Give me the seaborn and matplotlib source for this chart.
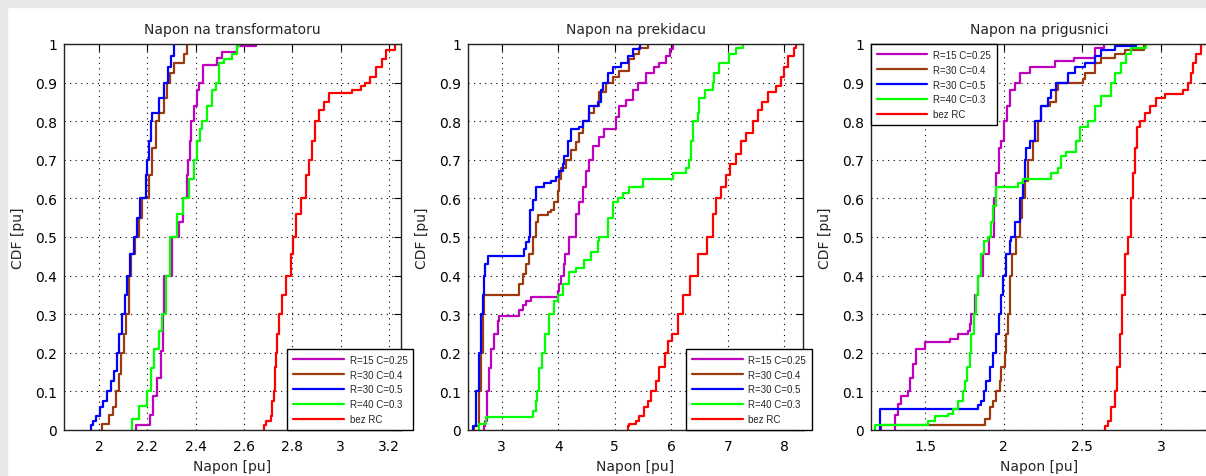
import matplotlib
matplotlib.use("Agg")
import matplotlib.pyplot as plt
from matplotlib.patches import Rectangle
import seaborn as sns
import pandas as pd

sns.set_style("white")
plt.rcParams["font.family"] = ["DejaVu Sans"]

labele = ["R=15 C=0.25", "R=30 C=0.4", "R=30 C=0.5", "R=40 C=0.3", "bez RC"]
boje = ["#bf00bf", "#9c3a0e", "#0000ff", "#00ff00", "#ff0000"]

# --- Napon na transformatoru (x = napon, cdf = vrijednost nakon skoka)
trafo_r15_x = [2.152, 2.152, 2.211, 2.225, 2.242, 2.256, 2.266, 2.270, 2.300, 2.331, 2.348, 2.363,
               2.368, 2.377, 2.382, 2.393, 2.404, 2.414, 2.432, 2.489, 2.510, 2.572, 2.648]
trafo_r15_cdf = [0, 0.014, 0.04, 0.089, 0.136, 0.205, 0.30, 0.40, 0.50, 0.54, 0.60, 0.66,
                 0.70, 0.75, 0.80, 0.84, 0.88, 0.90, 0.945, 0.965, 0.98, 0.995, 1.0]
trafo_r30a_x = [2.014, 2.014, 2.041, 2.059, 2.069, 2.083, 2.092, 2.103, 2.110, 2.124, 2.131, 2.148,
                2.165, 2.179, 2.207, 2.221, 2.234, 2.248, 2.269, 2.283, 2.294, 2.310, 2.352, 2.363]
trafo_r30a_cdf = [0, 0.016, 0.04, 0.06, 0.10, 0.145, 0.20, 0.25, 0.30, 0.40, 0.456, 0.50,
                  0.55, 0.60, 0.66, 0.73, 0.80, 0.82, 0.86, 0.90, 0.925, 0.95, 0.975, 1.0]
trafo_r30b_x = [1.966, 1.966, 1.977, 1.986, 2.004, 2.018, 2.032, 2.048, 2.062, 2.073, 2.083, 2.097,
                2.106, 2.117, 2.128, 2.145, 2.158, 2.170, 2.193, 2.200, 2.207, 2.214, 2.221,
                2.248, 2.269, 2.286, 2.299, 2.310]
trafo_r30b_cdf = [0, 0.012, 0.024, 0.037, 0.059, 0.076, 0.10, 0.128, 0.154, 0.20, 0.25, 0.30,
                  0.35, 0.40, 0.456, 0.50, 0.55, 0.60, 0.66, 0.70, 0.75, 0.80, 0.82,
                  0.86, 0.90, 0.94, 0.97, 1.0]
trafo_r40_x = [2.138, 2.138, 2.166, 2.200, 2.216, 2.228, 2.248, 2.262, 2.276, 2.294, 2.324, 2.349,
               2.372, 2.393, 2.407, 2.418, 2.428, 2.446, 2.469, 2.483, 2.497, 2.517, 2.552, 2.572, 2.579]
trafo_r40_cdf = [0, 0.028, 0.063, 0.10, 0.16, 0.21, 0.257, 0.30, 0.40, 0.50, 0.56, 0.60,
                 0.65, 0.70, 0.75, 0.78, 0.80, 0.84, 0.88, 0.90, 0.95, 0.96, 0.975, 0.995, 1.0]
trafo_bez_x = [2.683, 2.683, 2.690, 2.710, 2.717, 2.724, 2.727, 2.734, 2.738, 2.745, 2.759, 2.772,
               2.793, 2.804, 2.814, 2.837, 2.855, 2.869, 2.883, 2.892, 2.910, 2.931, 2.952,
               3.048, 3.083, 3.103, 3.120, 3.145, 3.172, 3.186, 3.225]
trafo_bez_cdf = [0, 0.012, 0.024, 0.035, 0.076, 0.10, 0.162, 0.20, 0.25, 0.30, 0.35, 0.40,
                 0.456, 0.50, 0.56, 0.60, 0.66, 0.70, 0.75, 0.80, 0.83, 0.85, 0.873,
                 0.88, 0.89, 0.90, 0.915, 0.94, 0.96, 0.985, 1.0]

# --- Napon na prekidacu
prek_r15_x = [2.693, 2.693, 2.711, 2.735, 2.770, 2.811, 2.870, 2.929, 2.960, 3.312, 3.371, 3.430,
              3.519, 3.990, 4.020, 4.050, 4.097, 4.126, 4.197, 4.315, 4.374, 4.433, 4.492,
              4.539, 4.610, 4.728, 4.816, 5.022, 5.081, 5.199, 5.317, 5.405, 5.553, 5.701,
              5.789, 5.907, 5.978, 6.025]
prek_r15_cdf = [0, 0.01, 0.024, 0.10, 0.16, 0.21, 0.25, 0.283, 0.296, 0.31, 0.325, 0.334,
                0.344, 0.36, 0.378, 0.40, 0.43, 0.456, 0.50, 0.56, 0.59, 0.63, 0.67,
                0.70, 0.735, 0.76, 0.78, 0.81, 0.84, 0.855, 0.88, 0.90, 0.925, 0.94,
                0.95, 0.97, 0.986, 1.0]
prek_r30a_x = [2.517, 2.517, 2.605, 2.634, 2.664, 2.693, 3.312, 3.371, 3.430, 3.478, 3.548, 3.607,
               3.640, 3.814, 3.873, 3.932, 3.990, 4.020, 4.050, 4.138, 4.226, 4.315, 4.374,
               4.433, 4.551, 4.639, 4.728, 4.846, 4.963, 5.081, 5.258, 5.347, 5.435, 5.590]
prek_r30a_cdf = [0, 0.01, 0.10, 0.20, 0.30, 0.35, 0.378, 0.404, 0.43, 0.456, 0.50, 0.54,
                 0.556, 0.565, 0.57, 0.59, 0.62, 0.65, 0.68, 0.70, 0.725, 0.745, 0.77,
                 0.80, 0.82, 0.84, 0.875, 0.90, 0.915, 0.93, 0.96, 0.975, 0.99, 1.0]
prek_r30b_x = [2.487, 2.487, 2.546, 2.593, 2.634, 2.664, 2.680, 2.711, 2.752, 3.401, 3.430, 3.478,
               3.501, 3.548, 3.607, 3.755, 3.873, 3.961, 4.020, 4.079, 4.110, 4.167, 4.226,
               4.374, 4.445, 4.551, 4.698, 4.757, 4.798, 4.875, 4.963, 5.111, 5.229, 5.317, 5.440]
prek_r30b_cdf = [0, 0.01, 0.10, 0.20, 0.30, 0.35, 0.40, 0.43, 0.45, 0.47, 0.486, 0.50,
                 0.57, 0.595, 0.63, 0.64, 0.645, 0.655, 0.67, 0.69, 0.71, 0.75, 0.78,
                 0.785, 0.80, 0.84, 0.85, 0.88, 0.90, 0.925, 0.94, 0.95, 0.97, 0.986, 1.0]
prek_r40_x = [2.605, 2.605, 2.723, 3.548, 3.607, 3.625, 3.666, 3.713, 3.772, 3.831, 3.932, 3.990,
              4.079, 4.197, 4.315, 4.462, 4.580, 4.698, 4.728, 4.875, 4.963, 5.052, 5.140,
              5.258, 5.494, 6.025, 6.261, 6.308, 6.349, 6.390, 6.467, 6.497, 6.603, 6.732,
              6.762, 6.850, 7.027, 7.145, 7.263]
prek_r40_cdf = [0, 0.016, 0.033, 0.05, 0.076, 0.10, 0.16, 0.20, 0.25, 0.30, 0.335, 0.35,
                0.378, 0.41, 0.42, 0.44, 0.46, 0.49, 0.50, 0.55, 0.59, 0.60, 0.615,
                0.63, 0.65, 0.667, 0.68, 0.70, 0.75, 0.80, 0.82, 0.86, 0.88, 0.90,
                0.925, 0.95, 0.975, 0.99, 1.0]
prek_bez_x = [5.229, 5.229, 5.258, 5.376, 5.435, 5.524, 5.583, 5.642, 5.730, 5.777, 5.880, 5.950,
              6.020, 6.120, 6.200, 6.330, 6.470, 6.630, 6.732, 6.791, 6.880, 6.968, 7.045,
              7.145, 7.233, 7.322, 7.440, 7.528, 7.605, 7.705, 7.853, 7.941, 8.000, 8.059,
              8.177, 8.206]
prek_bez_cdf = [0, 0.01, 0.016, 0.024, 0.037, 0.059, 0.076, 0.10, 0.128, 0.162, 0.20, 0.23,
                0.25, 0.30, 0.35, 0.40, 0.456, 0.50, 0.56, 0.60, 0.63, 0.66, 0.69,
                0.715, 0.75, 0.77, 0.80, 0.83, 0.85, 0.875, 0.89, 0.915, 0.94, 0.97,
                0.99, 1.0]

# --- Napon na prigusnici
prig_r15_x = [1.307, 1.307, 1.328, 1.349, 1.392, 1.402, 1.424, 1.445, 1.498, 1.657, 1.710, 1.774,
              1.784, 1.795, 1.816, 1.837, 1.869, 1.905, 1.939, 1.954, 1.971, 1.986, 2.003,
              2.024, 2.039, 2.070, 2.102, 2.170, 2.330, 2.445, 2.583, 2.636]
prig_r15_cdf = [0, 0.04, 0.067, 0.089, 0.10, 0.136, 0.17, 0.21, 0.227, 0.236, 0.25, 0.257,
                0.275, 0.30, 0.35, 0.40, 0.456, 0.50, 0.60, 0.665, 0.73, 0.75, 0.80,
                0.84, 0.88, 0.90, 0.925, 0.94, 0.955, 0.965, 0.99, 1.0]
prig_r30a_x = [1.222, 1.222, 1.880, 1.911, 1.933, 1.954, 1.975, 1.986, 2.007, 2.017, 2.028, 2.039,
               2.053, 2.081, 2.102, 2.117, 2.134, 2.155, 2.187, 2.219, 2.240, 2.293, 2.335,
               2.346, 2.505, 2.516, 2.580, 2.622, 2.707, 2.770, 2.890]
prig_r30a_cdf = [0, 0.014, 0.028, 0.059, 0.076, 0.10, 0.128, 0.162, 0.20, 0.25, 0.30, 0.40,
                 0.456, 0.50, 0.55, 0.60, 0.645, 0.70, 0.75, 0.80, 0.84, 0.85, 0.88,
                 0.90, 0.91, 0.925, 0.95, 0.965, 0.975, 0.985, 1.0]
prig_r30b_x = [1.212, 1.212, 1.837, 1.858, 1.875, 1.890, 1.911, 1.933, 1.954, 1.971, 1.986, 1.996,
               2.017, 2.039, 2.049, 2.070, 2.102, 2.123, 2.134, 2.144, 2.166, 2.198, 2.240,
               2.282, 2.304, 2.335, 2.410, 2.452, 2.516, 2.580, 2.622, 2.707, 2.844]
prig_r30b_cdf = [0, 0.054, 0.065, 0.076, 0.10, 0.128, 0.162, 0.20, 0.25, 0.30, 0.35, 0.40,
                 0.456, 0.49, 0.50, 0.54, 0.60, 0.645, 0.70, 0.73, 0.75, 0.80, 0.84,
                 0.86, 0.88, 0.90, 0.925, 0.94, 0.95, 0.97, 0.985, 0.995, 1.0]
prig_r40_x = [1.180, 1.180, 1.519, 1.561, 1.646, 1.678, 1.710, 1.742, 1.752, 1.769, 1.784, 1.795,
              1.812, 1.827, 1.837, 1.858, 1.875, 1.901, 1.922, 1.933, 1.950, 2.090, 2.125,
              2.300, 2.346, 2.367, 2.399, 2.463, 2.484, 2.537, 2.580, 2.622, 2.685, 2.707,
              2.749, 2.781, 2.813, 2.908]
prig_r40_cdf = [0, 0.014, 0.024, 0.035, 0.041, 0.054, 0.076, 0.10, 0.128, 0.162, 0.20, 0.25,
                0.30, 0.35, 0.40, 0.456, 0.49, 0.50, 0.54, 0.58, 0.63, 0.64, 0.65,
                0.665, 0.68, 0.71, 0.72, 0.75, 0.785, 0.80, 0.84, 0.865, 0.90, 0.925,
                0.95, 0.975, 0.99, 1.0]
prig_bez_x = [2.647, 2.647, 2.664, 2.685, 2.711, 2.723, 2.738, 2.753, 2.774, 2.791, 2.813, 2.823,
              2.834, 2.851, 2.866, 2.897, 2.929, 2.972, 3.025, 3.141, 3.173, 3.190, 3.205,
              3.226, 3.258]
prig_bez_cdf = [0, 0.01, 0.024, 0.059, 0.10, 0.162, 0.25, 0.35, 0.456, 0.50, 0.60, 0.665,
                0.73, 0.785, 0.80, 0.82, 0.84, 0.86, 0.87, 0.88, 0.90, 0.925, 0.95,
                0.975, 1.0]

naslovi = ["Napon na transformatoru", "Napon na prekidacu", "Napon na prigusnici"]
serije = [
    [(trafo_r15_x, trafo_r15_cdf), (trafo_r30a_x, trafo_r30a_cdf), (trafo_r30b_x, trafo_r30b_cdf),
     (trafo_r40_x, trafo_r40_cdf), (trafo_bez_x, trafo_bez_cdf)],
    [(prek_r15_x, prek_r15_cdf), (prek_r30a_x, prek_r30a_cdf), (prek_r30b_x, prek_r30b_cdf),
     (prek_r40_x, prek_r40_cdf), (prek_bez_x, prek_bez_cdf)],
    [(prig_r15_x, prig_r15_cdf), (prig_r30a_x, prig_r30a_cdf), (prig_r30b_x, prig_r30b_cdf),
     (prig_r40_x, prig_r40_cdf), (prig_bez_x, prig_bez_cdf)],
]
x_ticks = [[2, 2.2, 2.4, 2.6, 2.8, 3, 3.2], [3, 4, 5, 6, 7, 8], [1.5, 2, 2.5, 3]]
x_tick_labels = [["2", "2.2", "2.4", "2.6", "2.8", "3", "3.2"],
                 ["3", "4", "5", "6", "7", "8"],
                 ["1.5", "2", "2.5", "3"]]
y_ticks = [0, 0.1, 0.2, 0.3, 0.4, 0.5, 0.6, 0.7, 0.8, 0.9, 1]
y_tick_labels = ["0", "0.1", "0.2", "0.3", "0.4", "0.5", "0.6", "0.7", "0.8", "0.9", "1"]

x_limits = [(1.855, 3.25), (2.404, 8.33), (1.157, 3.30)]
W, H = 1206, 477
pozicije = [(64, 401), (468, 803), (871, 1208)]
legende = [("lower right", (1.036, 0.0)), ("lower right", (1.027, 0.0)), ("upper left", (0.0, 1.0))]

fig = plt.figure(figsize=(W / 100, H / 100), dpi=100)
fig.patches.append(Rectangle((0, 1 - 8 / H), 1, 8 / H, transform=fig.transFigure,
                             color="#e8e8e8", zorder=0))
fig.patches.append(Rectangle((0, 0), 7 / W, 1, transform=fig.transFigure,
                             color="#e8e8e8", zorder=0))

for i in range(3):
    l, r = pozicije[i]
    ax = fig.add_axes([l / W, (H - 431) / H, (r - l) / W, 386 / H])
    for j, (xs, fs) in enumerate(serije[i]):
        df = pd.DataFrame({"Napon": xs, "CDF": fs})
        sns.lineplot(data=df, x="Napon", y="CDF", ax=ax, estimator=None, sort=False,
                     drawstyle="steps-post", color=boje[j], linewidth=1.6, label=labele[j])

    ax.set_xlim(*x_limits[i])
    ax.set_ylim(0, 1)
    ax.set_xticks(x_ticks[i])
    ax.set_xticklabels(x_tick_labels[i])
    ax.set_yticks(y_ticks)
    ax.set_yticklabels(y_tick_labels)
    ax.grid(True, color="k", linestyle=(0, (1, 4)), linewidth=0.8)
    ax.set_axisbelow(True)
    ax.tick_params(direction="in", top=True, right=True, length=5, width=0.8,
                   labelsize=10, colors="k")
    ax.tick_params(axis="x", pad=6.5)
    ax.tick_params(axis="y", pad=5)
    for s in ax.spines.values():
        s.set_color("#222222")
        s.set_linewidth(1.0)
    ax.set_title(naslovi[i], fontsize=10, pad=8)
    ax.set_xlabel("Napon [pu]", fontsize=10, labelpad=4.5)
    ax.set_ylabel("CDF [pu]", fontsize=10, labelpad=7)

    loc, anchor = legende[i]
    leg = ax.legend(loc=loc, bbox_to_anchor=anchor, borderaxespad=0, fancybox=False,
                    framealpha=1, edgecolor="k", prop={"family": "Liberation Sans", "size": 7},
                    handlelength=5.2, handletextpad=0.6, labelspacing=0.5, borderpad=0.6)
    leg.get_frame().set_linewidth(1.0)

fig.savefig("out.png", dpi=100)
